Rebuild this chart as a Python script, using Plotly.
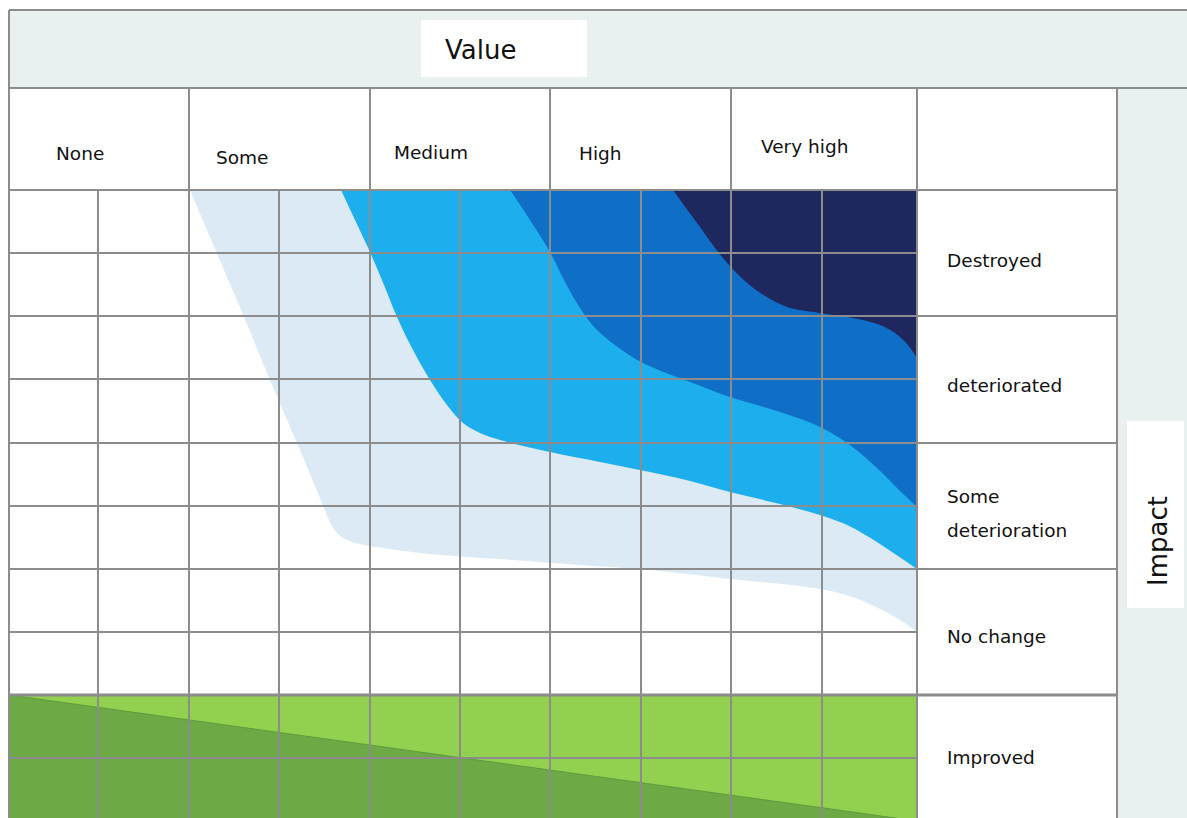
import plotly.graph_objects as go

W, H = 1187, 818
FONT = "DejaVu Sans"
GRID = "#8c8c8c"
BAND = "#e8f1f0"

# ── categories ───────────────────────────────────────────────────────────────
VALUE_LEVELS = ["None", "Some", "Medium", "High", "Very high"]
IMPACT_LEVELS = ["Destroyed", "deteriorated", "Some\ndeterioration", "No change", "Improved"]

# grid geometry (axis units = picture pixels)
COL_EDGES = [9, 189, 370, 550, 731, 917]
COL_MIDS = [98, 279, 460, 641, 822]
ROW_EDGES = [190, 316, 443, 569, 695, 821]
ROW_MIDS = [253, 379, 506, 632, 758]
LABEL_RIGHT = 1117
HEADER_TOP = 88
BAND_TOP = 10

# ── risk zone boundaries (from top-left edge down to the right edge) ────────
LIGHT_X = [190, 215, 244, 270, 297, 320, 331, 337, 345, 360, 390, 430, 513, 580, 650, 731, 800, 835, 858, 880, 900, 917]
LIGHT_Y = [190, 249, 317, 380, 443, 498, 524, 533, 539, 544, 549, 554, 560, 565, 570, 579, 586, 592, 599, 609, 620, 632]

MID_X = [341, 355, 370, 384, 397, 413, 430, 447, 463, 480, 500, 550, 600, 640, 690, 730, 780, 820, 845, 862, 880, 898, 917]
MID_Y = [190, 220, 252, 285, 317, 350, 380, 405, 423, 433, 440, 452, 462, 470, 481, 492, 504, 515, 524, 533, 544, 556, 569]

DARK_X = [510, 530, 550, 565, 580, 595, 615, 643, 693, 730, 780, 820, 850, 877, 897, 917]
DARK_Y = [190, 220, 252, 282, 308, 328, 345, 363, 383, 397, 412, 427, 445, 468, 488, 507]

NAVY_X = [673, 686, 700, 715, 730, 745, 762, 787, 820, 858, 880, 895, 907, 917]
NAVY_Y = [190, 208, 227, 248, 266, 281, 294, 307, 313, 319, 325, 333, 344, 358]

# improved band: diagonal split
GREEN_DIAG_X = [9, 917]
GREEN_DIAG_Y = [695, 821]

ZONES = [
    (LIGHT_X, LIGHT_Y, "#dceaf6"),
    (MID_X, MID_Y, "#1daeee"),
    (DARK_X, DARK_Y, "#0f6fc6"),
    (NAVY_X, NAVY_Y, "#1f285e"),
]

fig = go.Figure()

# background bands
shapes = [
    dict(type="rect", x0=COL_EDGES[0], x1=W + 5, y0=BAND_TOP, y1=HEADER_TOP,
         fillcolor=BAND, line_width=0, layer="below"),
    dict(type="rect", x0=LABEL_RIGHT, x1=W + 5, y0=HEADER_TOP, y1=H + 5,
         fillcolor=BAND, line_width=0, layer="below"),
]

# green "improved" band
fig.add_trace(go.Scatter(
    x=[COL_EDGES[0], COL_EDGES[-1], COL_EDGES[-1], COL_EDGES[0]],
    y=[ROW_EDGES[4], ROW_EDGES[4], ROW_EDGES[5], ROW_EDGES[5]],
    fill="toself", fillcolor="#92d050", mode="lines", line=dict(width=0),
    hoverinfo="skip", showlegend=False,
))
fig.add_trace(go.Scatter(
    x=GREEN_DIAG_X + [GREEN_DIAG_X[0]],
    y=GREEN_DIAG_Y + [GREEN_DIAG_Y[-1]],
    fill="toself", fillcolor="#6daa45", mode="lines",
    line=dict(width=1, color="#5f9a3c"),
    hoverinfo="skip", showlegend=False,
))

# blue risk zones, layered light to dark: fill between the top edge and the curve
for zx, zy, col in ZONES:
    fig.add_trace(go.Scatter(
        x=[zx[0], COL_EDGES[-1]], y=[ROW_EDGES[0], ROW_EDGES[0]],
        mode="lines", line=dict(width=0), hoverinfo="skip", showlegend=False,
    ))
    fig.add_trace(go.Scatter(
        x=zx, y=zy, fill="tonexty", fillcolor=col, mode="lines",
        line=dict(width=0, shape="spline", smoothing=1),
        hoverinfo="skip", showlegend=False,
    ))

# grid lines
def vline(x, y0, y1, w=2):
    shapes.append(dict(type="line", x0=x, x1=x, y0=y0, y1=y1,
                       line=dict(color=GRID, width=w)))

def hline(y, x0, x1, w=2):
    shapes.append(dict(type="line", x0=x0, x1=x1, y0=y, y1=y,
                       line=dict(color=GRID, width=w)))

for x in COL_MIDS:
    vline(x, ROW_EDGES[0], H + 5)
for x in COL_EDGES[1:]:
    vline(x, HEADER_TOP, H + 5)
vline(COL_EDGES[0], BAND_TOP, H + 5)
vline(LABEL_RIGHT, HEADER_TOP, H + 5)
for y in ROW_MIDS:
    hline(y, COL_EDGES[0], COL_EDGES[-1])
for y in ROW_EDGES[:5]:
    hline(y, COL_EDGES[0], LABEL_RIGHT)
hline(ROW_EDGES[4], COL_EDGES[0], LABEL_RIGHT, w=3)
hline(BAND_TOP, COL_EDGES[0], W + 5)
hline(HEADER_TOP, COL_EDGES[0], W + 5)

# title boxes
shapes.append(dict(type="rect", x0=421, x1=587, y0=20, y1=77,
                   fillcolor="white", line_width=0))
shapes.append(dict(type="rect", x0=1127, x1=1184, y0=421, y1=608,
                   fillcolor="white", line_width=0))

annotations = [
    dict(x=443, y=50, text="Value", xanchor="left", yanchor="middle",
         showarrow=False, font=dict(size=26, color="#111")),
    dict(x=1158, y=541, text="Impact", textangle=-90, xanchor="center",
         yanchor="middle", showarrow=False, font=dict(size=26, color="#111")),
]

# column header labels (positions as laid out in the original)
VALUE_LABEL_POS = [(54, 153), (214, 157), (392, 152), (577, 153), (759, 146)]
for lab, (lx, ly) in zip(VALUE_LEVELS, VALUE_LABEL_POS):
    annotations.append(dict(x=lx, y=ly, text=lab, xanchor="left", yanchor="middle",
                            showarrow=False, font=dict(size=18.5, color="#111")))

IMPACT_LABEL_Y = [260, 385, 496, 636, 757]
for lab, ly in zip(IMPACT_LEVELS, IMPACT_LABEL_Y):
    for i, part in enumerate(lab.split("\n")):
        annotations.append(dict(x=945, y=ly + 34 * i, text=part, xanchor="left",
                                yanchor="middle", showarrow=False,
                                font=dict(size=18.5, color="#111")))

fig.update_layout(
    width=W, height=H,
    margin=dict(l=0, r=0, t=0, b=0),
    paper_bgcolor="white", plot_bgcolor="white",
    font=dict(family=FONT),
    xaxis=dict(range=[0, W], visible=False, fixedrange=True),
    yaxis=dict(range=[H, 0], visible=False, fixedrange=True),
    shapes=shapes,
    annotations=annotations,
    showlegend=False,
)

# drop the browser's default body margin so the figure fills the window
fig.write_html(
    "out.html",
    config={"displayModeBar": False},
    post_script="document.body.style.margin='0';document.body.style.overflow='hidden';",
)
